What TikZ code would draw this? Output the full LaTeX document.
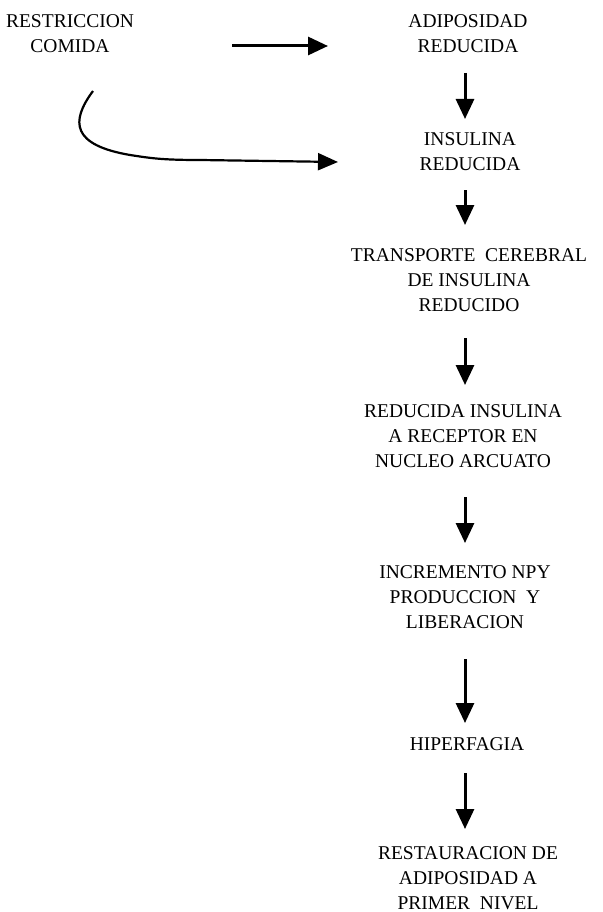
\documentclass[tikz,border=0pt]{standalone}
\usepackage{fontspec}
\setmainfont{Liberation Serif}
\usetikzlibrary{arrows.meta}
\begin{document}
\begin{tikzpicture}[x=1pt,y=-1pt,
  lbl/.style={align=center,inner sep=0pt,font=\fontsize{19.5}{25}\selectfont},
  arr/.style={line width=3pt,-{Triangle[length=20pt,width=18pt]}},
  carr/.style={line width=2.2pt,-{Triangle[length=20pt,width=17pt]}}]
\useasboundingbox[fill=white] (0,0) rectangle (602,912);
\node[lbl] (rc) at (70,34) {RESTRICCION\\COMIDA};
\node[lbl] (ad) at (468,34) {ADIPOSIDAD\\REDUCIDA};
\node[lbl] (ins) at (470,152) {INSULINA\\REDUCIDA};
\node[lbl] (tr) at (469,280) {TRANSPORTE\ \ CEREBRAL\\DE INSULINA\\REDUCIDO};
\node[lbl] (rec) at (463,436) {REDUCIDA INSULINA\\A RECEPTOR EN\\NUCLEO ARCUATO};
\node[lbl] (inc) at (465,597) {INCREMENTO NPY\\PRODUCCION\ \ Y\\LIBERACION};
\node[lbl] (hip) at (467,744) {HIPERFAGIA};
\node[lbl] (res) at (468,878) {RESTAURACION DE\\ADIPOSIDAD A\\PRIMER\ \ NIVEL};
% connector ends
\coordinate (h1s) at (232,46);  \coordinate (h1e) at (328,46);
\coordinate (c1s) at (93,91);   \coordinate (c1e) at (338,162);
\coordinate (v1s) at (465,73);  \coordinate (v1e) at (465,119);
\coordinate (v2s) at (465,190); \coordinate (v2e) at (465,225);
\coordinate (v3s) at (465,338); \coordinate (v3e) at (465,385);
\coordinate (v4s) at (465,497); \coordinate (v4e) at (465,543);
\coordinate (v5s) at (465,659); \coordinate (v5e) at (465,723);
\coordinate (v6s) at (465,773); \coordinate (v6e) at (465,829);
\draw[arr] (h1s) -- (h1e);
\draw[carr] (c1s) .. controls (70,122) and (72,145) .. (130,155)
  .. controls (150,158) and (160,160) .. (200,160) -- (c1e);
\draw[arr] (v1s) -- (v1e);
\draw[arr] (v2s) -- (v2e);
\draw[arr] (v3s) -- (v3e);
\draw[arr] (v4s) -- (v4e);
\draw[arr] (v5s) -- (v5e);
\draw[arr] (v6s) -- (v6e);
\end{tikzpicture}
\end{document}
